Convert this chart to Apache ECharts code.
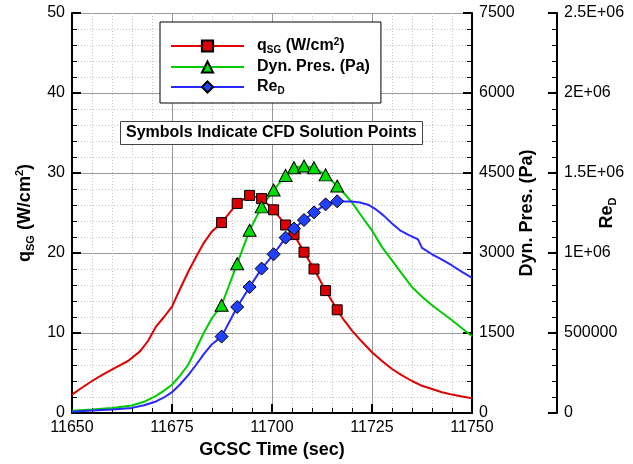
<!DOCTYPE html>
<html><head><meta charset="utf-8">
<script src="https://cdn.jsdelivr.net/npm/echarts@6/dist/echarts.min.js"></script>
<style>html,body{margin:0;padding:0;background:#fff}#c{width:633px;height:464px}</style>
</head><body><div id="c"></div>
<script>
// CFD solution points (shared times)
const cfdTime = [11687.4, 11691.3, 11694.4, 11697.4, 11700.4, 11703.4, 11705.5, 11708.0, 11710.5, 11713.4, 11716.3];
const cfdQ    = [23.8, 26.2, 27.2, 26.8, 25.4, 23.5, 22.3, 20.1, 18.0, 15.3, 12.9];
const cfdP    = [2020, 2800, 3425, 3865, 4180, 4455, 4600, 4630, 4600, 4465, 4255];
const cfdRe   = [477500, 662500, 787500, 902500, 992000, 1096000, 1152500, 1206000, 1254000, 1304000, 1323000];

// q_SG curve outside CFD window
const qPreT  = [11650, 11652, 11655, 11658, 11661, 11664, 11667, 11669, 11671, 11673, 11675, 11677, 11679, 11681, 11683, 11685];
const qPre   = [2.3, 3.0, 4.0, 4.9, 5.7, 6.5, 7.7, 9.0, 10.8, 12.0, 13.3, 15.5, 17.6, 19.5, 21.3, 22.7];
const qPostT = [11718, 11720, 11722.5, 11725, 11727.5, 11730, 11732.5, 11735, 11737.5, 11740, 11742.5, 11745, 11747.5, 11750];
const qPost  = [11.6, 10.3, 8.9, 7.6, 6.5, 5.5, 4.7, 4.0, 3.4, 3.0, 2.6, 2.3, 2.05, 1.85];

// Dynamic pressure curve
const pPreT  = [11650, 11655, 11660, 11665, 11668, 11671, 11673, 11675, 11677, 11679, 11681, 11683, 11685];
const pPre   = [40, 65, 95, 140, 210, 320, 420, 530, 700, 900, 1200, 1510, 1780];
const pPostT = [11718, 11720, 11722.5, 11725, 11727.5, 11730, 11732.5, 11735, 11737.5, 11740, 11742.5, 11745, 11747.5, 11750];
const pPost  = [4120, 3950, 3680, 3420, 3110, 2860, 2610, 2360, 2180, 2020, 1880, 1740, 1590, 1440];

// Re_D curve
const rePreT  = [11650, 11655, 11660, 11665, 11668, 11671, 11673, 11675, 11677, 11679, 11681, 11683, 11685];
const rePre   = [8000, 15000, 22000, 32000, 48000, 72000, 97000, 130000, 178000, 235000, 300000, 370000, 430000];
const rePostT = [11718, 11720, 11722, 11724, 11726, 11728, 11730, 11732, 11734, 11736.5, 11737.5, 11740, 11742.5, 11745, 11747.5, 11750];
const rePost  = [1322000, 1322000, 1316000, 1302000, 1272000, 1232000, 1185000, 1142000, 1115000, 1085000, 1032000, 992000, 958000, 922000, 882000, 845000];

// Tick labels
const reTickLabels = ['0', '500000', '1E+06', '1.5E+06', '2E+06', '2.5E+06'];

const F = 'Liberation Sans, Arial, Helvetica, sans-serif';

function build(preT, preV, cT, cV, postT, postV) {
  const d = [];
  preT.forEach((t, i) => d.push({value: [t, preV[i]], symbol: 'none'}));
  cT.forEach((t, i) => d.push({value: [t, cV[i]]}));
  postT.forEach((t, i) => d.push({value: [t, postV[i]], symbol: 'none'}));
  return d;
}
const nameRich = () => ({
  a:   {fontSize: 18, fontWeight: 'bold', fontFamily: F, color: '#000', lineHeight: 22},
  sub: {fontSize: 11, fontWeight: 'bold', fontFamily: F, color: '#000', verticalAlign: 'bottom', lineHeight: 10},
  sup: {fontSize: 11, fontWeight: 'bold', fontFamily: F, color: '#000', verticalAlign: 'top', lineHeight: 10}
});
const legRich = {
  g:   {width: 8},
  a:   {fontSize: 16, fontWeight: 'bold', fontFamily: F, color: '#000', lineHeight: 18},
  sub: {fontSize: 10, fontWeight: 'bold', fontFamily: F, color: '#000', verticalAlign: 'bottom', lineHeight: 8},
  sup: {fontSize: 10, fontWeight: 'bold', fontFamily: F, color: '#000', verticalAlign: 'top', lineHeight: 8}
};
const legendLabels = {
  q:   '{g| }{a|q}{sub|SG}{a| (W/cm}{sup|2}{a|)}',
  dyn: '{g| }{a|Dyn. Pres. (Pa)}',
  re:  '{g| }{a|Re}{sub|D}'
};
const tickLabel = (fmt) => ({color: '#000', fontSize: 16, fontFamily: F, margin: 7, formatter: fmt || (v => String(v))});
const axLine = () => ({show: true, onZero: false, lineStyle: {color: '#000', width: 2}});
const axTick = () => ({show: true, inside: true, length: 9, lineStyle: {color: '#000', width: 2}});
const minTick = () => ({show: true, splitNumber: 5, length: 5, lineStyle: {color: '#000', width: 1}});

const chart = echarts.init(document.getElementById('c'));
chart.setOption({
  animation: false,
  backgroundColor: '#fff',
  title: {
    text: 'Symbols Indicate CFD Solution Points',
    left: 120, top: 121, padding: [3, 6, 3, 6],
    borderColor: '#444', borderWidth: 1, backgroundColor: '#fff',
    textStyle: {fontSize: 16, fontWeight: 'bold', fontFamily: F, color: '#000', lineHeight: 18}
  },
  graphic: [{
    type: 'text', x: 272, y: 450, z: 10,
    style: {text: 'GCSC Time (sec)', align: 'center', verticalAlign: 'middle',
      font: 'bold 18px ' + F, fill: '#000'}
  }],
  legend: {
    orient: 'vertical', left: 160, top: 22, padding: [15, 11, 7, 10], itemGap: 4,
    itemWidth: 73, itemHeight: 14,
    backgroundColor: '#fff', borderColor: '#000', borderWidth: 1,
    lineStyle: {width: 2},
    data: ['q', 'dyn', 're'],
    formatter: n => legendLabels[n],
    textStyle: {rich: legRich}
  },
  grid: {left: 72, right: 161, top: 13, bottom: 51, containLabel: false, outerBoundsMode: 'none'},
  xAxis: {
    type: 'value', min: 11650, max: 11750, interval: 25,
    axisLine: axLine(), axisTick: axTick(), minorTick: minTick(),
    axisLabel: tickLabel(),
    splitLine: {show: true, lineStyle: {color: '#9a9a9a', width: 1}},
    minorSplitLine: {show: true, lineStyle: {color: '#c4c4c4', width: 1, type: [1, 2]}}
  },
  yAxis: [
    {
      type: 'value', min: 0, max: 50, interval: 10, position: 'left',
      name: '{a|q}{sub|SG}{a| (W/cm}{sup|2}{a|)}', nameLocation: 'middle', nameGap: 36, nameMoveOverlap: false,
      nameTextStyle: {rich: nameRich()},
      axisLine: axLine(), axisTick: axTick(), minorTick: minTick(),
      axisLabel: tickLabel(),
      splitLine: {show: true, lineStyle: {color: '#9a9a9a', width: 1}},
      minorSplitLine: {show: true, lineStyle: {color: '#c4c4c4', width: 1, type: [1, 2]}}
    },
    {
      type: 'value', min: 0, max: 7500, interval: 1500, position: 'right',
      name: '{a|Dyn. Pres. (Pa)}', nameLocation: 'middle', nameGap: 44, nameMoveOverlap: false,
      nameTextStyle: {rich: nameRich()},
      axisLine: axLine(), axisTick: axTick(), minorTick: minTick(),
      axisLabel: tickLabel(),
      splitLine: {show: false}
    },
    {
      type: 'value', min: 0, max: 2500000, interval: 500000, position: 'right', offset: 85,
      name: '{a|Re}{sub|D}', nameLocation: 'middle', nameGap: 39, nameMoveOverlap: false,
      nameTextStyle: {rich: nameRich()},
      axisLine: axLine(), axisTick: axTick(), minorTick: minTick(),
      axisLabel: tickLabel(v => reTickLabels[Math.round(v / 500000)]),
      splitLine: {show: false}
    }
  ],
  series: [
    {name: 'q', type: 'line', yAxisIndex: 0, data: build(qPreT, qPre, cfdTime, cfdQ, qPostT, qPost),
      symbol: 'rect', symbolSize: 10, showAllSymbol: true,
      lineStyle: {color: '#e00000', width: 2}, itemStyle: {color: '#dd0000', borderColor: '#000', borderWidth: 1}},
    {name: 'dyn', type: 'line', yAxisIndex: 1, data: build(pPreT, pPre, cfdTime, cfdP, pPostT, pPost),
      symbol: 'triangle', symbolSize: [13, 12], showAllSymbol: true,
      lineStyle: {color: '#00cc00', width: 2}, itemStyle: {color: '#00dd00', borderColor: '#000', borderWidth: 1}},
    {name: 're', type: 'line', yAxisIndex: 2, data: build(rePreT, rePre, cfdTime, cfdRe, rePostT, rePost),
      symbol: 'diamond', symbolSize: 13, showAllSymbol: true,
      lineStyle: {color: '#2828ff', width: 2}, itemStyle: {color: '#2040ff', borderColor: '#000', borderWidth: 1}}
  ]
});
</script>
</body></html>
